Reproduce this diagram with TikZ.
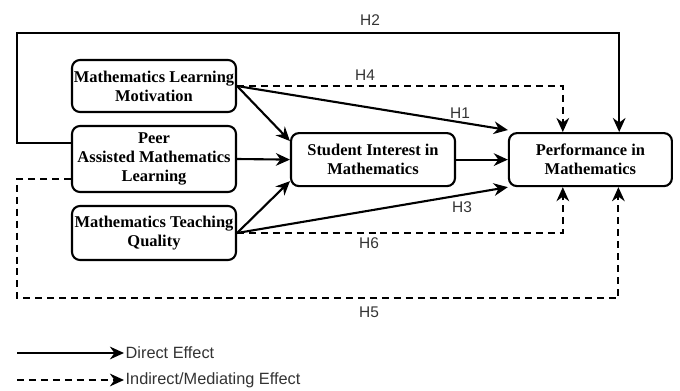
\documentclass[tikz,border=0pt]{standalone}
\usepackage{fontspec}
\setmainfont{Liberation Serif}
\setsansfont{Liberation Sans}
\usetikzlibrary{arrows.meta}
\tikzset{
    box/.style={draw, rounded corners=0.2cm, line width=1.5pt, align=center, inner sep=0pt,
        font=\fontsize{11.7}{13.5}\selectfont\bfseries},
    direct/.style={-{Stealth[length=10pt,width=9pt]}, line width=1.5pt},
    indirect/.style={direct, dash pattern=on 5pt off 3.5pt},
    hyp/.style={font=\sffamily\fontsize{11}{13}\selectfont, text=black!80},
    legend/.style={font=\sffamily\fontsize{11.6}{13}\selectfont, text=black!80, anchor=west, inner sep=1pt},
}

\begin{document}
\begin{tikzpicture}
    \useasboundingbox (0,0) rectangle (17,-9.75);
    %boxes
    \node[box, minimum width=4.1cm, minimum height=1.3cm] (mlm) at (3.85,-2.15) {Mathematics Learning\\Motivation};
    \node[box, minimum width=4.1cm, minimum height=1.65cm] (paml) at (3.85,-3.975) {Peer\\Assisted Mathematics\\Learning};
    \node[box, minimum width=4.1cm, minimum height=1.35cm] (mtq) at (3.85,-5.825) {Mathematics Teaching\\Quality};
    \node[box, minimum width=4.1cm, minimum height=1.325cm] (sim) at (9.325,-3.99) {Student Interest in\\Mathematics};
    \node[box, minimum width=4.075cm, minimum height=1.325cm] (pm) at (14.76,-3.99) {Performance in\\Mathematics};
    %corners of the outer paths
    \coordinate (h2corner) at (0.425,-0.825);
    \coordinate (h5corner) at (0.425,-7.45);
    %direct paths
    \draw[direct] (mlm.east) -- ([yshift=-0.225cm]sim.north west);
    \draw[direct] (paml.east) -- (sim.west);
    \draw[direct] (mtq.east) -- ([yshift=0.15cm]sim.south west);
    \draw[direct] (sim.east) -- (pm.west);
    \draw[direct] (mlm.east) -- ([yshift=0.05cm]pm.north west);
    \draw[direct] (mtq.east) -- (pm.south west);
    \draw[direct] ([yshift=0.4cm]paml.west) -| (h2corner) -| ([xshift=0.72cm]pm.north);
    %indirect paths
    \draw[indirect] (mlm.east) -| ([xshift=-0.69cm]pm.north);
    \draw[indirect] (mtq.east) -| ([xshift=-0.69cm]pm.south);
    \draw[indirect] ([yshift=-0.5cm]paml.west) -| (h5corner) -| ([xshift=0.7cm]pm.south);
    %labels
    \node[hyp] (lh1) at (11.5,-2.825) {H1};
    \node[hyp] (lh2) at (9.25,-0.5) {H2};
    \node[hyp] (lh3) at (11.55,-5.175) {H3};
    \node[hyp] (lh4) at (9.125,-1.875) {H4};
    \node[hyp] (lh5) at (9.225,-7.8) {H5};
    \node[hyp] (lh6) at (9.225,-6.075) {H6};
    %legend
    \coordinate (ldirstart) at (0.425,-8.825);
    \coordinate (lindstart) at (0.425,-9.5);
    \node[legend] (ldir) at (3.1,-8.825) {Direct Effect};
    \node[legend] (lind) at (3.1,-9.5) {Indirect/Mediating Effect};
    \draw[direct] (ldirstart) -- (ldir.west);
    \draw[indirect] (lindstart) -- (lind.west);
\end{tikzpicture}
\end{document}
